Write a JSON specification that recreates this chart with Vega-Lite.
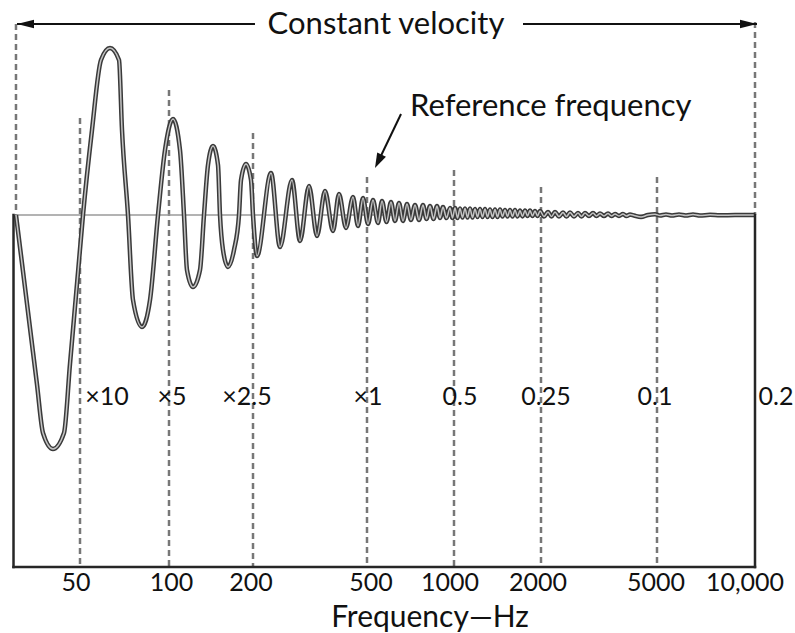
{
  "$schema": "https://vega.github.io/schema/vega-lite/v6.json",
  "width": 795,
  "height": 633,
  "padding": 0,
  "autosize": {"type": "fit", "contains": "padding"},
  "background": "white",
  "config": {"view": {"stroke": null}},
  "datasets": {
    "wave": [
      {"hz": 30.37, "amp": 0}, {"hz": 32.08, "amp": -0.565}, {"hz": 35.77, "amp": -1.695}, {"hz": 37.48, "amp": -2.18}, {"hz": 40.52, "amp": -2.34},
      {"hz": 44.14, "amp": -2.18}, {"hz": 46.25, "amp": -1.49}, {"hz": 49.23, "amp": -0.574}, {"hz": 51.18, "amp": 0}, {"hz": 54.9, "amp": 0.85},
      {"hz": 58.88, "amp": 1.55}, {"hz": 63.16, "amp": 1.67}, {"hz": 67.75, "amp": 1.55}, {"hz": 69.35, "amp": 0.85},
      {"hz": 72.66, "amp": 0}, {"hz": 75.55, "amp": -0.85}, {"hz": 81.04, "amp": -1.12}, {"hz": 86.25, "amp": -0.85},
      {"hz": 91.79, "amp": 0}, {"hz": 96.93, "amp": 0.65}, {"hz": 103.36, "amp": 0.96}, {"hz": 109.5, "amp": 0.65},
      {"hz": 113.18, "amp": 0}, {"hz": 116.01, "amp": -0.55}, {"hz": 121.9, "amp": -0.72}, {"hz": 129.15, "amp": -0.55},
      {"hz": 133.48, "amp": 0}, {"hz": 137.96, "amp": 0.5}, {"hz": 143.78, "amp": 0.69}, {"hz": 149.83, "amp": 0.5},
      {"hz": 152.32, "amp": 0}, {"hz": 156.14, "amp": -0.35}, {"hz": 162.72, "amp": -0.52}, {"hz": 170.98, "amp": -0.35},
      {"hz": 178.18, "amp": 0}, {"hz": 181.15, "amp": 0.35}, {"hz": 188.78, "amp": 0.51}, {"hz": 196.73, "amp": 0.35},
      {"hz": 200.0, "amp": 0}, {"hz": 206.53, "amp": -0.41},
      {"hz": 231.13, "amp": 0.42}, {"hz": 248.47, "amp": -0.32}, {"hz": 273.63, "amp": 0.35}, {"hz": 291.81, "amp": -0.26},
      {"hz": 313.7, "amp": 0.29}, {"hz": 334.53, "amp": -0.21}, {"hz": 356.75, "amp": 0.24}, {"hz": 380.44, "amp": -0.16},
      {"hz": 399.23, "amp": 0.21}, {"hz": 422.34, "amp": -0.13}, {"hz": 446.78, "amp": 0.18}, {"hz": 465.11, "amp": -0.11},
      {"hz": 484.18, "amp": 0.17}, {"hz": 504.0, "amp": -0.09}, {"hz": 524.48, "amp": 0.15}, {"hz": 545.8, "amp": -0.08},
      {"hz": 563.47, "amp": 0.14}, {"hz": 584.04, "amp": -0.07}, {"hz": 605.36, "amp": 0.13}, {"hz": 624.96, "amp": -0.06},
      {"hz": 645.2, "amp": 0.12}, {"hz": 666.09, "amp": -0.06}, {"hz": 687.66, "amp": 0.11}, {"hz": 709.43, "amp": -0.05},
      {"hz": 732.92, "amp": 0.1}, {"hz": 756.65, "amp": -0.05}, {"hz": 781.15, "amp": 0.1}, {"hz": 803.24, "amp": -0.04},
      {"hz": 825.96, "amp": 0.09}, {"hz": 849.31, "amp": -0.04}, {"hz": 873.33, "amp": 0.09}, {"hz": 894.46, "amp": -0.03},
      {"hz": 916.1, "amp": 0.08}, {"hz": 941.99, "amp": -0.03}, {"hz": 968.63, "amp": 0.07}, {"hz": 988.12, "amp": -0.03},
      {"hz": 1008.0, "amp": 0.07}, {"hz": 1028.3, "amp": -0.03}, {"hz": 1049.0, "amp": 0.065}, {"hz": 1070.1, "amp": -0.025},
      {"hz": 1091.6, "amp": 0.065}, {"hz": 1113.6, "amp": -0.025}, {"hz": 1136.0, "amp": 0.065}, {"hz": 1158.8, "amp": -0.025},
      {"hz": 1182.1, "amp": 0.06}, {"hz": 1205.9, "amp": -0.02}, {"hz": 1230.2, "amp": 0.06}, {"hz": 1254.9, "amp": -0.02},
      {"hz": 1280.2, "amp": 0.06}, {"hz": 1305.9, "amp": -0.02}, {"hz": 1332.2, "amp": 0.055}, {"hz": 1359.0, "amp": -0.02},
      {"hz": 1386.3, "amp": 0.055}, {"hz": 1414.2, "amp": -0.02}, {"hz": 1442.7, "amp": 0.055}, {"hz": 1471.7, "amp": -0.015},
      {"hz": 1501.3, "amp": 0.05}, {"hz": 1531.5, "amp": -0.015}, {"hz": 1562.3, "amp": 0.05}, {"hz": 1593.7, "amp": -0.015},
      {"hz": 1625.8, "amp": 0.05}, {"hz": 1658.5, "amp": -0.015}, {"hz": 1691.9, "amp": 0.045}, {"hz": 1725.9, "amp": -0.015},
      {"hz": 1760.6, "amp": 0.045}, {"hz": 1796.1, "amp": -0.01}, {"hz": 1832.2, "amp": 0.045}, {"hz": 1869.1, "amp": -0.01},
      {"hz": 1906.6, "amp": 0.04}, {"hz": 1945.0, "amp": -0.01}, {"hz": 1984.1, "amp": 0.04},
      {"hz": 2048.0, "amp": -0.015}, {"hz": 2113.7, "amp": 0.03}, {"hz": 2173.0, "amp": -0.015}, {"hz": 2233.9, "amp": 0.03},
      {"hz": 2305.6, "amp": -0.015}, {"hz": 2379.6, "amp": 0.025}, {"hz": 2446.3, "amp": -0.015}, {"hz": 2514.9, "amp": 0.025},
      {"hz": 2595.6, "amp": -0.015}, {"hz": 2678.9, "amp": 0.02}, {"hz": 2754.0, "amp": -0.015}, {"hz": 2831.2, "amp": 0.02},
      {"hz": 2922.1, "amp": -0.01}, {"hz": 3015.9, "amp": 0.02}, {"hz": 3100.4, "amp": -0.01}, {"hz": 3187.4, "amp": 0.015},
      {"hz": 3289.7, "amp": -0.01}, {"hz": 3395.3, "amp": 0.015}, {"hz": 3490.5, "amp": -0.01}, {"hz": 3588.3, "amp": 0.01},
      {"hz": 3703.5, "amp": -0.01}, {"hz": 3822.4, "amp": 0.01}, {"hz": 3929.5, "amp": -0.01}, {"hz": 4039.7, "amp": 0.005},
      {"hz": 4169.4, "amp": -0.005}, {"hz": 4406.4, "amp": -0.02}, {"hz": 4656.9, "amp": 0.0}, {"hz": 4921.7, "amp": 0.008},
      {"hz": 5107.3, "amp": -0.005}, {"hz": 5328.7, "amp": 0.005}, {"hz": 5559.7, "amp": -0.005}, {"hz": 5841.8, "amp": 0.005},
      {"hz": 6138.3, "amp": -0.005}, {"hz": 6449.9, "amp": 0.005}, {"hz": 6777.3, "amp": -0.005}, {"hz": 7274.0, "amp": 0.002},
      {"hz": 7807.1, "amp": -0.003}, {"hz": 8680.9, "amp": 0}, {"hz": 10000, "amp": 0}
    ],
    "box": [
      {"hz": 29.79, "amp": 0, "hz2": 29.79, "amp2": -3.52},
      {"hz": 29.79, "amp": -3.52, "hz2": 10000, "amp2": -3.52},
      {"hz": 10000, "amp": 0, "hz2": 10000, "amp2": -3.52}
    ],
    "baseline": [{"hz": 30.37, "amp": 0, "hz2": 10000, "amp2": 0}],
    "dash": [
      {"hz": 30.37, "amp": 1.91, "hz2": 30.37, "amp2": 0},
      {"hz": 50, "amp": 0.97, "hz2": 50, "amp2": -3.52},
      {"hz": 100, "amp": 1.25, "hz2": 100, "amp2": -3.52},
      {"hz": 200, "amp": 0.82, "hz2": 200, "amp2": -3.52},
      {"hz": 500, "amp": 0.38, "hz2": 500, "amp2": -3.52},
      {"hz": 1000, "amp": 0.45, "hz2": 1000, "amp2": -3.52},
      {"hz": 2000, "amp": 0.28, "hz2": 2000, "amp2": -3.52},
      {"hz": 5000, "amp": 0.38, "hz2": 5000, "amp2": -3.52},
      {"hz": 10000, "amp": 1.93, "hz2": 10000, "amp2": 0}
    ],
    "arrowlines": [
      {"hz": 30.61, "amp": 1.91, "hz2": 203.2, "amp2": 1.91},
      {"hz": 1732.8, "amp": 1.91, "hz2": 10142, "amp2": 1.91},
      {"hz": 655.6, "amp": 1.01, "hz2": 545.8, "amp2": 0.53}
    ],
    "headLeft": [{"hz": 30.61, "amp": 1.91}],
    "headRight": [{"hz": 10142, "amp": 1.91}],
    "headRef": [{"hz": 532.9, "amp": 0.47}],
    "title": [{"hz": 581.7, "amp": 1.9, "label": "Constant velocity"}],
    "ref": [{"hz": 704.3, "amp": 1.08, "label": "Reference frequency"}],
    "mid": [
      {"hz": 61.7, "amp": -1.82, "label": "×10"},
      {"hz": 102.5, "amp": -1.82, "label": "×5"},
      {"hz": 190.4, "amp": -1.82, "label": "×2.5"},
      {"hz": 504, "amp": -1.82, "label": "×1"},
      {"hz": 1049, "amp": -1.82, "label": "0.5"},
      {"hz": 2081, "amp": -1.82, "label": "0.25"},
      {"hz": 4922, "amp": -1.82, "label": "0.1"},
      {"hz": 11601, "amp": -1.82, "label": "0.2"}
    ],
    "ticks": [
      {"hz": 48.5, "amp": -3.68, "label": "50"},
      {"hz": 102.1, "amp": -3.68, "label": "100"},
      {"hz": 196.7, "amp": -3.68, "label": "200"},
      {"hz": 516, "amp": -3.68, "label": "500"},
      {"hz": 968.7, "amp": -3.68, "label": "1000"},
      {"hz": 1953, "amp": -3.68, "label": "2000"},
      {"hz": 4960, "amp": -3.68, "label": "5000"},
      {"hz": 9318, "amp": -3.68, "label": "10,000"}
    ],
    "xtitle": [{"hz": 826, "amp": -4.03, "label": "Frequency—Hz"}]
  },
  "encoding": {
    "x": {"field": "hz", "type": "quantitative", "axis": null,
      "scale": {"type": "log", "domain": [50, 100, 200, 500, 1000, 2000, 5000, 10000], "range": [80, 169, 253, 367, 454, 541, 657, 755], "nice": false}},
    "y": {"field": "amp", "type": "quantitative", "axis": null,
      "scale": {"domain": [-4.18, 2.15], "nice": false, "zero": false}}
  },
  "layer": [
    {"data": {"name": "dash"}, "mark": {"type": "rule", "color": "#777777", "strokeWidth": 2.5, "strokeDash": [6, 4]},
      "encoding": {"x2": {"field": "hz2"}, "y2": {"field": "amp2"}}},
    {"data": {"name": "baseline"}, "mark": {"type": "rule", "color": "#9a9a9a", "strokeWidth": 1.5},
      "encoding": {"x2": {"field": "hz2"}, "y2": {"field": "amp2"}}},
    {"data": {"name": "wave"}, "mark": {"type": "line", "interpolate": "monotone", "color": "#3a3a3a", "strokeWidth": 4.5},
      "encoding": {}},
    {"data": {"name": "wave"}, "mark": {"type": "line", "interpolate": "monotone", "color": "#c4c4c4", "strokeWidth": 1.5},
      "encoding": {}},
    {"data": {"name": "box"}, "mark": {"type": "rule", "color": "#262626", "strokeWidth": 2.5, "strokeCap": "square"},
      "encoding": {"x2": {"field": "hz2"}, "y2": {"field": "amp2"}}},
    {"data": {"name": "arrowlines"}, "mark": {"type": "rule", "color": "#111111", "strokeWidth": 2},
      "encoding": {"x2": {"field": "hz2"}, "y2": {"field": "amp2"}}},
    {"data": {"name": "headLeft"}, "mark": {"type": "point", "shape": "M0,0 L-2,-0.5 L-2,0.5 Z", "size": 289, "filled": true, "color": "#111111", "opacity": 1, "angle": 180}},
    {"data": {"name": "headRight"}, "mark": {"type": "point", "shape": "M0,0 L-2,-0.5 L-2,0.5 Z", "size": 289, "filled": true, "color": "#111111", "opacity": 1, "angle": 0}},
    {"data": {"name": "headRef"}, "mark": {"type": "point", "shape": "M0,0 L-2,-0.65 L-2,0.65 Z", "size": 225, "filled": true, "color": "#111111", "opacity": 1, "angle": 116}},
    {"data": {"name": "title"}, "mark": {"type": "text", "font": "Lato", "fontSize": 31, "color": "#111111", "align": "center", "baseline": "middle"},
      "encoding": {"text": {"field": "label"}}},
    {"data": {"name": "ref"}, "mark": {"type": "text", "font": "Lato", "fontSize": 31, "color": "#111111", "align": "left", "baseline": "middle"},
      "encoding": {"text": {"field": "label"}}},
    {"data": {"name": "mid"}, "mark": {"type": "text", "font": "Lato", "fontSize": 25, "color": "#111111", "align": "center", "baseline": "middle"},
      "encoding": {"text": {"field": "label"}}},
    {"data": {"name": "ticks"}, "mark": {"type": "text", "font": "Lato", "fontSize": 25, "color": "#111111", "align": "center", "baseline": "middle"},
      "encoding": {"text": {"field": "label"}}},
    {"data": {"name": "xtitle"}, "mark": {"type": "text", "font": "Lato", "fontSize": 30, "color": "#111111", "align": "center", "baseline": "middle"},
      "encoding": {"text": {"field": "label"}}}
  ]
}
